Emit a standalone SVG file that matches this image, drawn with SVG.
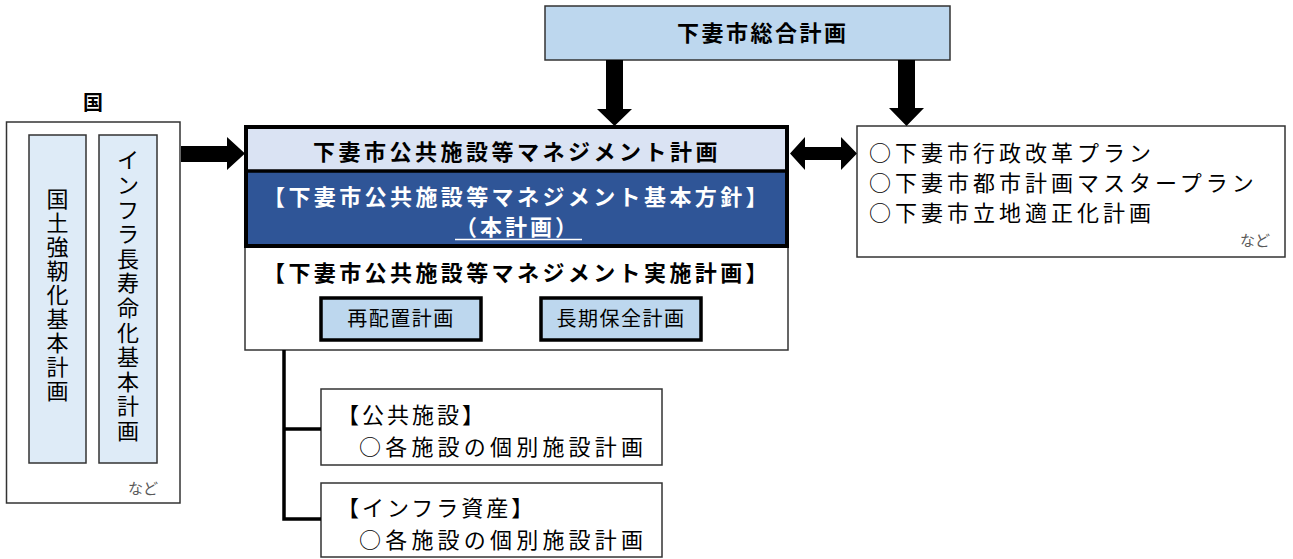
<svg xmlns="http://www.w3.org/2000/svg" width="1293" height="559" viewBox="0 0 1293 559">
<style>
text{font-family:"Noto Sans CJK JP","Noto Sans",sans-serif;fill:#000}
.b{font-weight:bold}
.f22{font-size:22px}
.f20{font-size:20px}
.small{font-size:15px;fill:#595959}
.thin{stroke:#333;stroke-width:1.5}
.thick{stroke:#000;stroke-width:3.5}
.arrow{fill:#000;stroke:none}
.mid{text-anchor:middle}
</style>

<g id="sougou">
<rect x="545" y="6" width="405" height="54" fill="#bdd7ee" class="thin"/>
<text x="677" y="41" class="b f22" style="letter-spacing:2.5px">下妻市総合計画</text>
</g>

<g id="kuni">
<text x="93" y="110" class="b f20 mid">国</text>
<rect x="6.5" y="122" width="173.5" height="381" fill="#fff" class="thin"/>
<rect x="29" y="135" width="57" height="328" fill="#deebf7" class="thin"/>
<rect x="99" y="135" width="58" height="328" fill="#deebf7" class="thin"/>
<text class="f22 mid" x="57.5 57.5 57.5 57.5 57.5 57.5 57.5 57.5 57.5" y="207 231 255 279 303 327 351 375 399">国土強靭化基本計画</text>
<text class="f22 mid" x="128 128 128 128 128 128 128 128 128 128 128 128" y="168 193 218 242 267 291 316 341 365 390 414 439">インフラ長寿命化基本計画</text>
<text x="128" y="494" class="small">など</text>
</g>

<g id="management">
<rect x="245" y="126" width="543" height="224" fill="#fff" class="thin"/>
<rect x="246" y="127" width="541" height="44" fill="#dae3f3"/>
<rect x="246" y="171" width="541" height="75" fill="#2f5597"/>
<rect x="246" y="127" width="541" height="119" fill="none" stroke="#000" stroke-width="4"/>
<line x1="246" y1="171" x2="787" y2="171" stroke="#000" stroke-width="3.5"/>
<text x="313" y="160" class="b f22" style="letter-spacing:3.5px">下妻市公共施設等マネジメント計画</text>
<text x="263" y="205" class="b f22" style="letter-spacing:3.4px;fill:#fff">【下妻市公共施設等マネジメント基本方針】</text>
<text x="455" y="235" class="b f22" style="letter-spacing:3px;fill:#fff">（本計画）</text>
<line x1="455" y1="239.5" x2="582" y2="239.5" stroke="#fff" stroke-width="1.5"/>
<text x="263" y="281" class="b f22" style="letter-spacing:3.4px">【下妻市公共施設等マネジメント実施計画】</text>
</g>

<g id="saihaichi">
<rect x="321" y="298" width="160" height="42" fill="#bdd7ee" class="thick"/>
<text x="401" y="326" class="f20 mid" style="letter-spacing:1.5px">再配置計画</text>
</g>

<g id="chouki">
<rect x="541" y="298" width="160" height="42" fill="#bdd7ee" class="thick"/>
<text x="621" y="326" class="f20 mid" style="letter-spacing:1.5px">長期保全計画</text>
</g>

<g id="related">
<rect x="857" y="126" width="428" height="131" fill="#fff" class="thin"/>
<text x="869" y="161" class="f22" style="letter-spacing:4px">○下妻市行政改革プラン</text>
<text x="869" y="191" class="f22" style="letter-spacing:4px">○下妻市都市計画マスタープラン</text>
<text x="869" y="221" class="f22" style="letter-spacing:4px">○下妻市立地適正化計画</text>
<text x="1240" y="246" class="small">など</text>
</g>

<g id="koukyou">
<rect x="321" y="389" width="341" height="76" fill="#fff" class="thin"/>
<text x="337" y="423" class="f22" style="letter-spacing:3px">【公共施設】</text>
<text x="359" y="455" class="f22" style="letter-spacing:4.2px">○各施設の個別施設計画</text>
</g>

<g id="infra">
<rect x="321" y="483" width="341" height="74" fill="#fff" class="thin"/>
<text x="337" y="516" class="f22" style="letter-spacing:3px">【インフラ資産】</text>
<text x="359" y="548" class="f22" style="letter-spacing:4.2px">○各施設の個別施設計画</text>
</g>

<g id="connectors">
<polygon class="arrow" points="606,60 623,60 623,109 632,109 614.5,126 597,109 606,109"/>
<polygon class="arrow" points="898,60 915,60 915,108 924,108 906.5,126 889,108 898,108"/>
<polygon class="arrow" points="181,146 227,146 227,137 245,153.5 227,170 227,162 181,162"/>
<polygon class="arrow" points="790,153.5 805,137 805,147 841,147 841,137 857,153.5 841,170 841,160 805,160 805,170"/>
<polyline points="284,350 284,519 321,519" fill="none" class="thick"/>
<line x1="284" y1="429" x2="321" y2="429" class="thick"/>
</g>
</svg>
